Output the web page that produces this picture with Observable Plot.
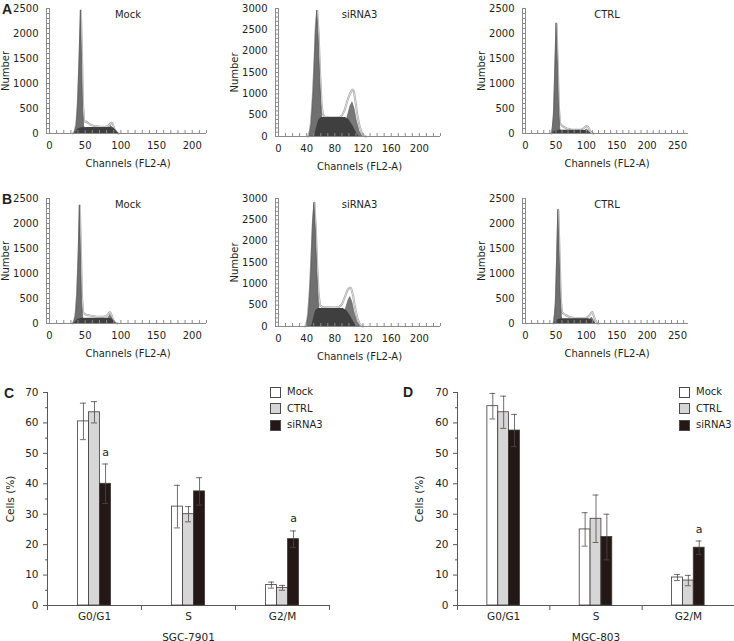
<!DOCTYPE html>
<html>
<head>
<meta charset="utf-8">
<script src="https://cdn.jsdelivr.net/npm/d3@7"></script>
<script src="https://cdn.jsdelivr.net/npm/@observablehq/plot@0.6"></script>
<style>
  body { margin: 0; background: #fff; }
  #fig { position: relative; width: 734px; height: 641px; overflow: hidden; background: #fff;
         font-family: "DejaVu Sans", sans-serif; color: #231f20; }
  #fig > div.p { position: absolute; }
  #fig svg { display: block; overflow: visible; }
  .letter { position: absolute; font: bold 14px "Liberation Sans", Arial, sans-serif; line-height: 14px; }
  .legend { position: absolute; font-size: 10px; line-height: 16.5px; white-space: nowrap; }
  .legend .row { display: flex; align-items: center; height: 16.5px; }
  .legend .sw { width: 11px; height: 11px; border: 1px solid #4a4a4a; box-sizing: border-box; margin-right: 6px; }
</style>
</head>
<body>
<div id="fig"></div>
<script>
// ---------------- DATA ----------------
// Flow-cytometry histograms: [channel, count]
const histTitles = ["Mock", "siRNA3", "CTRL"];
const xTicksMock = [0, 50, 100, 150, 200];
const xTicksSi = [0, 40, 80, 120, 160, 200];
const xTicksCtrl = [0, 50, 100, 150, 200, 250];
const yTicks2500 = [0, 500, 1000, 1500, 2000, 2500];
const yTicks3000 = [0, 500, 1000, 1500, 2000, 2500, 3000];

// Row A (SGC-7901)
const aMockRaw = [[33,0],[36,60],[38,250],[40,700],[42,1500],[44,2460],[45.5,1600],[47,600],[48.5,260],[50,230],[52,240],[55,200],[58,170],[63,150],[70,140],[78,135],[82,150],[85,200],[87,215],[89,180],[91,90],[94,20],[97,0]];
const aMockG1 = [[35,0],[38,150],[40,550],[42,1400],[44,2460],[45.5,1500],[47,500],[48.5,150],[51,30],[53,0]];
const aMockS = [[36,0],[40,90],[45,115],[55,120],[85,120],[90,110],[94,50],[97,0]];
const aMockG2 = [[80,0],[83,70],[86,150],[89,110],[92,20],[93,0]];

const aSiRaw = [[42,0],[45,150],[48,700],[51,1700],[53,2600],[55,2950],[57,2400],[59,1500],[61,800],[63,520],[66,460],[72,450],[80,445],[86,450],[90,490],[94,620],[98,850],[102,1020],[105,1100],[107,1060],[109,850],[112,500],[115,250],[118,100],[121,25],[124,0]];
const aSiG1 = [[44,0],[47,300],[50,1100],[53,2400],[55,2950],[57,2300],[59,1400],[61,700],[63,250],[65,50],[66,0]];
const aSiS = [[51,0],[54,200],[57,380],[61,445],[95,445],[100,390],[105,270],[110,110],[114,0]];
const aSiG2 = [[88,0],[93,180],[98,450],[102,700],[105,800],[108,650],[111,380],[115,130],[119,0]];

const aCtrlRaw = [[43,0],[46,200],[48,900],[51,2200],[53,1400],[55,500],[57,200],[59,170],[62,140],[68,100],[75,80],[85,75],[92,80],[96,110],[100,150],[103,130],[106,60],[109,10],[112,0]];
const aCtrlG1 = [[44,0],[47,400],[49,1300],[51,2200],[53,1500],[55,600],[57,100],[59,0]];
const aCtrlS = [[45,0],[48,50],[55,65],[95,65],[102,50],[108,0]];
const aCtrlG2 = [[94,0],[98,60],[101,80],[104,50],[107,0]];

// Row B (MGC-803)
const bMockRaw = [[32,0],[35,60],[37,250],[39,700],[41,1500],[42.5,2360],[44,1500],[45.5,550],[47,230],[49,190],[52,175],[57,160],[65,140],[75,135],[80,150],[83,210],[85,225],[87,170],[89,80],[92,15],[95,0]];
const bMockG1 = [[34,0],[37,150],[39,550],[41,1400],[42.5,2360],[44,1400],[45.5,450],[47,130],[50,20],[52,0]];
const bMockS = [[35,0],[39,80],[44,100],[55,105],[82,105],[87,95],[91,40],[94,0]];
const bMockG2 = [[79,0],[82,80],[85,170],[88,100],[91,15],[92,0]];

const bSiRaw = [[38,0],[41,150],[44,700],[47,1700],[49,2500],[51,2900],[53,2300],[55,1400],[57,750],[59,500],[62,455],[70,450],[80,445],[86,455],[90,520],[94,680],[98,850],[101,910],[103,900],[106,720],[109,420],[112,200],[115,70],[118,10],[120,0]];
const bSiG1 = [[40,0],[43,300],[46,1100],[49,2400],[51,2900],[53,2250],[55,1300],[57,600],[59,200],[61,40],[62,0]];
const bSiS = [[47,0],[50,200],[53,380],[57,420],[92,420],[97,370],[102,250],[107,100],[111,0]];
const bSiG2 = [[86,0],[91,170],[96,430],[100,640],[102,690],[105,560],[108,330],[112,110],[116,0]];

const bCtrlRaw = [[46,0],[49,200],[51,900],[54,2270],[56,1400],[58,500],[60,230],[62,200],[66,170],[72,130],[80,110],[90,105],[100,110],[105,160],[108,215],[110,227],[112,160],[115,60],[118,10],[120,0]];
const bCtrlG1 = [[47,0],[50,400],[52,1300],[54,2270],[56,1400],[58,500],[60,100],[62,0]];
const bCtrlS = [[48,0],[52,70],[58,95],[104,95],[110,70],[115,0]];
const bCtrlG2 = [[103,0],[106,70],[109,120],[112,70],[115,0]];

// Bar charts
const phases = ["G0/G1", "S", "G2/M"];
const treatments = ["Mock", "CTRL", "siRNA3"];
const sgcMean = [[60.5, 63.5, 40.0], [32.5, 30.0, 37.5], [6.7, 5.8, 21.8]];
const sgcErr  = [[6.0, 3.5, 6.5], [7.0, 2.5, 4.5], [1.0, 0.8, 2.7]];
const sgcSig  = [[0, 0, 1], [0, 0, 0], [0, 0, 1]];
const mgcMean = [[65.5, 63.5, 57.5], [25.0, 28.5, 22.5], [9.2, 8.2, 19.0]];
const mgcErr  = [[4.2, 5.3, 5.3], [5.5, 7.8, 7.5], [1.0, 1.7, 2.2]];
const mgcSig  = [[0, 0, 0], [0, 0, 0], [0, 0, 1]];
const yTicksPct = [0, 10, 20, 30, 40, 50, 60, 70];

// ---------------- DRAWING ----------------
const fig = document.getElementById("fig");
const ink = "#231f20";
const axisGray = "#8a8a8a";
const plain = d => String(d);

function place(node, left, top) {
  const d = document.createElement("div");
  d.className = "p";
  d.style.left = left + "px";
  d.style.top = top + "px";
  d.appendChild(node);
  fig.appendChild(d);
}

function histogram(c) {
  const X = d => d[0], Y = d => d[1];
  const minorY = d3.range(0, c.yDomain[1] + 1, 100);
  const minorX = d3.range(0, c.xDomain[1] + 1, 10);
  return Plot.plot({
    width: c.width, height: c.height,
    marginLeft: c.ml, marginRight: c.mr, marginTop: 8, marginBottom: c.mb,
    style: { background: "transparent", fontFamily: "DejaVu Sans", fontSize: "10px", color: ink, overflow: "visible" },
    x: { type: "linear", domain: c.xDomain },
    y: { type: "linear", domain: c.yDomain },
    marks: [
      Plot.line(c.raw, { x: X, y: Y, stroke: "#a3a3a3", strokeWidth: 2 }),
      Plot.line(c.raw, { x: X, y: Y, stroke: "#ffffff", strokeWidth: 0.6 }),
      Plot.areaY(c.g1, { x: X, y: Y, fill: "#707070", stroke: "#4a4a4a", strokeWidth: 0.6 }),
      Plot.areaY(c.g2, { x: X, y: Y, fill: "#787878", stroke: "#555", strokeWidth: 0.5 }),
      Plot.areaY(c.s, { x: X, y: Y, fill: "#3f3f3f" }),
      Plot.ruleY([c.yDomain[0]], { stroke: axisGray }),
      Plot.ruleX([c.xDomain[0]], { stroke: axisGray }),
      Plot.ruleX([c.xDomain[0]], { stroke: axisGray, dx: -3 }),
      Plot.axisY({ ticks: minorY, tickSize: 3, tickFormat: () => "", label: null, stroke: axisGray }),
      Plot.axisY({ ticks: c.yTicks, tickSize: 0, tickPadding: 11, fontSize: 10, tickFormat: plain,
                   label: "Number", labelAnchor: "center", labelArrow: "none", labelOffset: 48 }),
      Plot.axisX({ ticks: minorX, tickSize: -3, tickFormat: () => "", label: null, stroke: axisGray }),
      Plot.axisX({ ticks: c.xTicks, tickSize: 0, tickPadding: 8, fontSize: 10, tickFormat: plain,
                   label: "Channels (FL2-A)", labelAnchor: "center", labelArrow: "none", labelOffset: 33 }),
      Plot.text([c.title], { text: d => d, frameAnchor: "top", dy: 2, fontSize: 10, fill: ink })
    ]
  });
}

const rows = [
  { top: 0, sets: [[aMockRaw, aMockG1, aMockS, aMockG2], [aSiRaw, aSiG1, aSiS, aSiG2], [aCtrlRaw, aCtrlG1, aCtrlS, aCtrlG2]] },
  { top: 190, sets: [[bMockRaw, bMockG1, bMockS, bMockG2], [bSiRaw, bSiG1, bSiS, bSiG2], [bCtrlRaw, bCtrlG1, bCtrlS, bCtrlG2]] }
];
const histLayout = [
  { left: 0,   width: 240, ml: 49, mr: 34, height: 175, mb: 42, xDomain: [0, 220], yDomain: [0, 2500], xTicks: xTicksMock, yTicks: yTicks2500 },
  { left: 228, width: 250, ml: 50, mr: 38, height: 175, mb: 39, xDomain: [0, 230], yDomain: [0, 3000], xTicks: xTicksSi, yTicks: yTicks3000 },
  { left: 475, width: 259, ml: 50, mr: 46, height: 175, mb: 42, xDomain: [0, 268], yDomain: [0, 2500], xTicks: xTicksCtrl, yTicks: yTicks2500 }
];
rows.forEach(r => {
  r.sets.forEach((s, i) => {
    const L = histLayout[i];
    const svg = histogram({ ...L, title: histTitles[i], raw: s[0], g1: s[1], s: s[2], g2: s[3] });
    place(svg, L.left, r.top);
  });
});

function barChart(c) {
  const data = [];
  phases.forEach((p, i) => treatments.forEach((t, j) =>
    data.push({ phase: p, treat: t, mean: c.mean[i][j], err: c.err[i][j], sig: c.sig[i][j] })));
  const lo = d => d.mean - d.err, hi = d => d.mean + d.err;
  const edge = "#3e3a39";
  const plotH = c.height - 22 - 36;
  return Plot.plot({
    width: c.width, height: c.height,
    marginLeft: c.ml, marginRight: c.mr, marginTop: 22, marginBottom: 36,
    style: { background: "transparent", fontFamily: "DejaVu Sans", fontSize: "10.5px", color: ink, overflow: "visible" },
    fx: { domain: phases, padding: 0, round: false },
    x: { domain: treatments, paddingInner: 0, paddingOuter: 2.75, round: false, axis: null },
    y: { domain: [0, 70] },
    color: { domain: treatments, range: ["#ffffff", "#d6d6d6", "#231815"] },
    marks: [
      Plot.ruleY([0], { stroke: "#595757" }),
      // category boundary ticks (Excel style)
      Plot.frame({ anchor: "left", insetTop: plotH, insetBottom: -4, stroke: "#595757" }),
      Plot.frame({ anchor: "right", facetAnchor: "right", insetTop: plotH, insetBottom: -4, stroke: "#595757" }),
      Plot.barY(data, { fx: "phase", x: "treat", y: "mean", fill: "treat", stroke: edge, strokeWidth: 0.8 }),
      Plot.ruleX(data, { fx: "phase", x: "treat", y1: lo, y2: hi, stroke: "#4d4a49", strokeWidth: 0.8 }),
      Plot.tickY(data, { fx: "phase", x: "treat", y: hi, insetLeft: 2.5, insetRight: 2.5, stroke: "#4d4a49", strokeWidth: 0.8 }),
      Plot.tickY(data, { fx: "phase", x: "treat", y: lo, insetLeft: 2.5, insetRight: 2.5, stroke: "#4d4a49", strokeWidth: 0.8 }),
      Plot.text(data.filter(d => d.sig), { fx: "phase", x: "treat", y: hi, text: () => "a", dy: -12, fontSize: 11, fill: ink }),
      Plot.axisY({ ticks: yTicksPct, tickSize: 4, tickPadding: 5, fontSize: 10.5, stroke: "#595757", tickFormat: plain,
                   label: "Cells (%)", labelAnchor: "center", labelArrow: "none", labelOffset: c.labelOffset }),
      Plot.axisY({ ticks: d3.range(5, 70, 10), tickSize: 2, tickFormat: () => "", label: null, stroke: "#595757" }),
      Plot.axisFx({ anchor: "bottom", tickSize: 0, tickPadding: 7, fontSize: 10.5,
                    label: c.cell, labelAnchor: "center", labelArrow: "none", labelOffset: 35 }),
      Plot.frame({ anchor: "left", facetAnchor: "left", stroke: "#595757" })
    ]
  });
}

place(barChart({ width: 370, height: 271, ml: 47, mr: 41, labelOffset: 41, cell: "SGC-7901",
                 mean: sgcMean, err: sgcErr, sig: sgcSig }), 0, 370);
place(barChart({ width: 364, height: 271, ml: 87, mr: 0, labelOffset: 42, cell: "MGC-803",
                 mean: mgcMean, err: mgcErr, sig: mgcSig }), 370, 370);

// panel letters
[["A", 2, 2], ["B", 2, 192], ["C", 4, 386], ["D", 403, 385]].forEach(([t, x, y]) => {
  const s = document.createElement("div");
  s.className = "letter"; s.textContent = t;
  s.style.left = x + "px"; s.style.top = y + "px";
  fig.appendChild(s);
});

// legends
const swatch = { "Mock": "#ffffff", "CTRL": "#d6d6d6", "siRNA3": "#231815" };
[[270, 384], [679, 384]].forEach(([x, y]) => {
  const lg = document.createElement("div");
  lg.className = "legend";
  lg.style.left = x + "px"; lg.style.top = y + "px";
  treatments.forEach(t => {
    const r = document.createElement("div"); r.className = "row";
    const b = document.createElement("div"); b.className = "sw"; b.style.background = swatch[t];
    const l = document.createElement("span"); l.textContent = t;
    r.appendChild(b); r.appendChild(l); lg.appendChild(r);
  });
  fig.appendChild(lg);
});
</script>
</body>
</html>
